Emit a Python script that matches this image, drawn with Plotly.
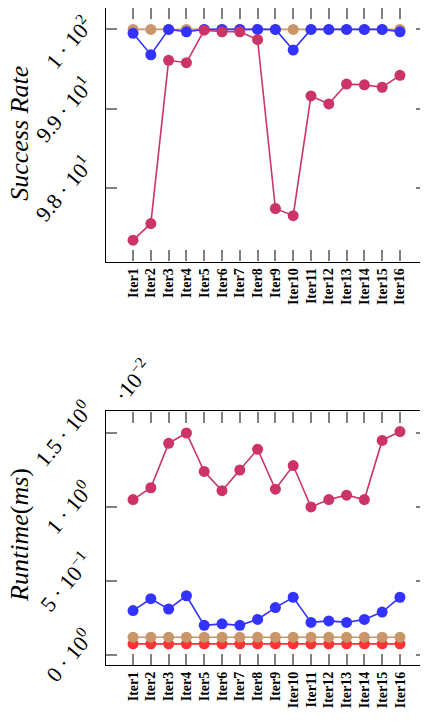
import plotly.graph_objects as go
from plotly.subplots import make_subplots

iters = [f"Iter{i}" for i in range(1, 17)]

# success rate (%)
success_crimson = [97.34, 97.55, 99.61, 99.58, 99.99, 99.97, 99.97, 99.87,
                   97.74, 97.65, 99.16, 99.06, 99.31, 99.30, 99.27, 99.42]
success_blue = [99.95, 99.68, 100.0, 99.97, 100.0, 100.0, 100.0, 100.0,
                100.0, 99.74, 100.0, 100.0, 100.0, 100.0, 100.0, 99.97]
success_tan = [100.0] * 16

# runtime (x10^-2 ms)
runtime_crimson = [1.05, 1.13, 1.43, 1.50, 1.24, 1.11, 1.25, 1.39,
                   1.12, 1.28, 1.00, 1.05, 1.08, 1.05, 1.45, 1.51]
runtime_blue = [0.30, 0.38, 0.31, 0.40, 0.20, 0.21, 0.20, 0.24,
                0.32, 0.39, 0.22, 0.23, 0.22, 0.24, 0.29, 0.39]
runtime_tan = [0.12] * 16
runtime_red = [0.075] * 16

success_ticks = [98, 99, 100]
success_ticktext = ["9.8 · 10<sup>1</sup>", "9.9 · 10<sup>1</sup>", "1 · 10<sup>2</sup>"]
runtime_ticks = [0, 0.5, 1.0, 1.5]
runtime_ticktext = ["0 · 10<sup>0</sup>", "5 · 10<sup>−1</sup>", "1 · 10<sup>0</sup>", "1.5 · 10<sup>0</sup>"]

CRIMSON = "#cc3366"
BLUE = "#3333ff"
TAN = "#c8966a"
RED = "#ff3333"
FONT = "Liberation Serif"

fig = make_subplots(rows=2, cols=1, vertical_spacing=0.228)


def add_line(y, color, row):
    fig.add_trace(go.Scatter(
        x=iters, y=y, mode="lines+markers",
        line=dict(color=color, width=1.6),
        marker=dict(color=color, size=11),
        showlegend=False,
    ), row=row, col=1)


add_line(success_tan, TAN, 1)
add_line(success_blue, BLUE, 1)
add_line(success_crimson, CRIMSON, 1)

add_line(runtime_red, RED, 2)
add_line(runtime_tan, TAN, 2)
add_line(runtime_blue, BLUE, 2)
add_line(runtime_crimson, CRIMSON, 2)

axis_common = dict(
    showline=True, linecolor="black", linewidth=1.3, mirror="ticks",
    ticks="inside", ticklen=11, tickwidth=1.5, tickcolor="#808080",
    showgrid=False, zeroline=False, automargin=False,
)

for r in (1, 2):
    fig.update_xaxes(
        **axis_common, range=[-1.52, 16.52], tickangle=-90,
        tickfont=dict(family=FONT, size=14, color="black", weight="bold"),
        row=r, col=1,
    )

fig.update_yaxes(
    **axis_common, range=[97.07, 100.27],
    tickvals=success_ticks, showticklabels=False,
    row=1, col=1,
)
fig.update_yaxes(
    **axis_common, range=[-0.068, 1.646],
    tickvals=runtime_ticks, showticklabels=False,
    row=2, col=1,
)

# slanted y tick labels, centred on their ticks
for yref, vals, texts in (("y", success_ticks, success_ticktext),
                          ("y2", runtime_ticks, runtime_ticktext)):
    for v, t in zip(vals, texts):
        top_label = yref == "y" and v == max(vals)
        fig.add_annotation(
            text=t, xref="paper", yref=yref, x=-0.016, y=v,
            xanchor="right", yanchor="middle", textangle=-50,
            yshift=-13 if top_label else 0,
            showarrow=False, font=dict(family=FONT, size=22, color="black"),
        )

fig.add_annotation(
    text="<i>Success Rate</i>", xref="paper", yref="paper",
    x=-0.268, y=0.81, xanchor="center", yanchor="middle",
    textangle=-90, showarrow=False,
    font=dict(family=FONT, size=26, color="black"),
)
fig.add_annotation(
    text="<i>Runtime</i>(<i>ms</i>)", xref="paper", yref="paper",
    x=-0.268, y=0.198, xanchor="center", yanchor="middle",
    textangle=-90, showarrow=False,
    font=dict(family=FONT, size=26, color="black"),
)
fig.add_annotation(
    text="·10<sup>−2</sup>", xref="paper", yref="paper",
    x=0.081, y=0.434, xanchor="center", yanchor="middle",
    textangle=-50, showarrow=False,
    font=dict(family=FONT, size=22, color="black"),
)

# page body adds an 8px offset, so the figure is 8px smaller
fig.update_layout(
    width=420, height=714,
    margin=dict(l=98, r=1, t=0, b=57),
    plot_bgcolor="white", paper_bgcolor="white",
)

fig.write_html("out.html")
